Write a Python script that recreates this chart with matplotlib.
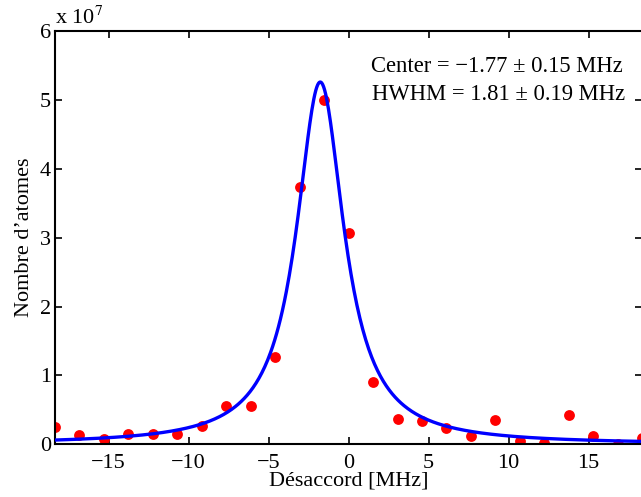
import numpy as np
import matplotlib
matplotlib.use("Agg")
import matplotlib.pyplot as plt

plt.rcParams['font.family'] = ['Liberation Serif', 'DejaVu Serif']
plt.rcParams['mathtext.fontset'] = 'stix'

# measured points (x in MHz, atoms in units of 1e7)
detuning = np.linspace(-18.35, 18.35, 25)
atoms = [0.25, 0.135, 0.08, 0.15, 0.155, 0.145, 0.26, 0.55, 0.555, 1.27,
         3.73, 5.00, 3.07, 0.90, 0.37, 0.34, 0.23, 0.125, 0.36, 0.05,
         0.02, 0.42, 0.125, 0.005, 0.09]

# lorentzian fit parameters
center = -1.77
hwhm = 1.81
amplitude = 5.26

x_fit = np.linspace(detuning[0], detuning[-1], 600)
y_fit = amplitude / (1 + ((x_fit - center) / hwhm) ** 2)

W, H = 641, 497
fig = plt.figure(figsize=(W / 100, H / 100), dpi=100)
ax = fig.add_axes([0.0858, 0.106, 0.916, 0.8316])

ax.plot(detuning, atoms, 'o', color='red', markersize=7.8, markeredgewidth=0, zorder=2)
ax.plot(x_fit, y_fit, color='blue', linewidth=2.4, zorder=3)

ax.set_xlim(detuning[0], detuning[-1])
ax.set_ylim(0, 6)
ax.set_xticks([-15, -10, -5, 0, 5, 10, 15])
ax.set_yticks([0, 1, 2, 3, 4, 5, 6])
ax.tick_params(direction='in', length=5, width=1.2, labelsize=16,
               top=True, right=True, pad=3)
ax.tick_params(axis='x', pad=7)
for s in ax.spines.values():
    s.set_linewidth(1.5)

ax.set_xlabel('Désaccord [MHz]', fontsize=16, labelpad=-1)
ax.set_ylabel('Nombre d’atomes', fontsize=16, labelpad=4)

ax.text(0.0, 1.005, r'x 10$^{7}$', transform=ax.transAxes, fontsize=16,
        ha='left', va='bottom')

fig.text(371 / W, 1 - 72 / H, 'Center = −1.77 ± 0.15 MHz', fontsize=16.3,
         ha='left', va='baseline')
fig.text(372 / W, 1 - 100 / H, 'HWHM = 1.81 ± 0.19 MHz', fontsize=16.3,
         ha='left', va='baseline')

fig.savefig('out.png', dpi=100)
